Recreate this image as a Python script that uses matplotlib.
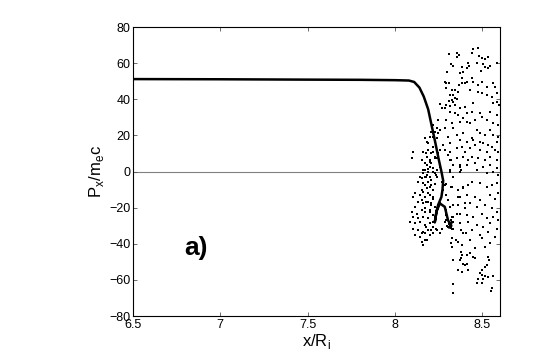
import numpy as np
import matplotlib
matplotlib.use('Agg')
import matplotlib.pyplot as plt

plt.rcParams['font.family'] = ['Liberation Sans', 'DejaVu Sans']

# main momentum trace
line_x = [6.5, 7.0, 7.5, 7.8, 8.0, 8.08, 8.11, 8.14, 8.165, 8.19, 8.21, 8.23, 8.25,
          8.266, 8.276, 8.272, 8.266, 8.247, 8.238, 8.228, 8.238, 8.257, 8.285, 8.304,
          8.323, 8.31, 8.325]
line_y = [51.2, 51.1, 50.9, 50.8, 50.6, 50.4, 49.6, 46.5, 41.5, 34.5, 25.5, 16.5, 7,
          0, -5, -10, -14, -18.5, -22, -28, -22, -17.6, -19.5, -27,
          -30, -31, -28]

# scattered particles, upper part
top_x = [8.311, 8.353, 8.368, 8.356, 8.444, 8.442, 8.477, 8.483, 8.496, 8.515, 8.534,
         8.318, 8.330, 8.381, 8.420, 8.423, 8.410, 8.471, 8.502, 8.515, 8.534, 8.544,
         8.490, 8.299, 8.372, 8.387, 8.381, 8.439, 8.448, 8.410, 8.400, 8.381, 8.368,
         8.286, 8.295, 8.311, 8.295, 8.324, 8.343, 8.362, 8.334, 8.315, 8.343, 8.324,
         8.334, 8.356, 8.311, 8.429, 8.477, 8.496, 8.528, 8.559, 8.572, 8.525, 8.553,
         8.582, 8.582, 8.563, 8.597, 8.448, 8.295, 8.315, 8.343, 8.257, 8.286, 8.267,
         8.400, 8.372, 8.496, 8.477, 8.582]
top_y = [65.1, 65.4, 64.5, 63.2, 67.6, 65.8, 68.4, 63.9, 62.7, 62.1, 63.2,
         59.5, 58.4, 58.0, 60.3, 58.4, 57.1, 59.9, 59.5, 58.0, 57.1, 58.4,
         55.8, 55.3, 54.4, 55.3, 51.6, 51.6, 49.7, 49.7, 48.8, 49.2, 47.9,
         49.7, 48.8, 48.8, 46.0, 45.1, 45.1, 44.2, 42.4, 42.4, 40.5, 39.6,
         38.7, 40.0, 39.2, 45.1, 44.2, 43.3, 47.0, 48.8, 47.0, 42.4, 41.4,
         43.3, 38.7, 37.7, 36.8, 38.1, 36.8, 36.3, 36.8, 37.4, 35.0, 35.0,
         35.9, 35.0, 49.7, 47.9, 59.9]

# middle band (around zero)
mid_x = [8.315, 8.343, 8.362, 8.410, 8.439, 8.486, 8.544, 8.582, 8.496, 8.391, 8.372,
         8.410, 8.429, 8.458, 8.525, 8.563, 8.591, 8.324, 8.295, 8.248, 8.219, 8.238,
         8.257, 8.286, 8.209, 8.200, 8.171, 8.181, 8.190, 8.238, 8.219, 8.334, 8.353,
         8.391, 8.467, 8.486, 8.515, 8.544, 8.563, 8.591, 8.582, 8.486, 8.505, 8.534,
         8.448, 8.439, 8.410, 8.372, 8.305, 8.315, 8.276, 8.286, 8.315, 8.353, 8.381,
         8.400, 8.429, 8.458, 8.486, 8.525, 8.553, 8.572, 8.591, 8.104, 8.095, 8.181,
         8.200, 8.209, 8.181, 8.238, 8.315, 8.353, 8.391, 8.420, 8.439, 8.477, 8.515,
         8.544, 8.582, 8.334, 8.372, 8.410, 8.458, 8.505, 8.544, 8.582, 8.171, 8.190,
         8.219, 8.229, 8.143, 8.171, 8.315, 8.372, 8.467, 8.525, 8.563, 8.591, 8.200,
         8.238, 8.229, 8.248, 8.219, 8.190, 8.209, 8.229, 8.248, 8.257, 8.200, 8.219,
         8.238, 8.257, 8.162, 8.181]
mid_y = [33.1, 32.6, 31.3, 32.2, 33.1, 32.6, 33.1, 31.3, 30.4, 29.4, 27.6,
         27.6, 26.7, 28.5, 28.5, 26.7, 25.7, 26.7, 28.5, 28.5, 25.7, 23.9,
         23.0, 23.9, 22.1, 19.3, 18.4, 16.5, 15.6, 18.4, 13.8, 23.9, 20.2,
         21.1, 23.0, 21.1, 20.2, 23.0, 20.2, 19.3, 16.5, 16.5, 15.6, 14.7,
         17.4, 18.4, 16.5, 17.4, 19.3, 15.6, 14.7, 11.9, 11.0, 12.8, 13.8,
         11.0, 12.8, 14.7, 11.9, 11.0, 13.8, 11.9, 11.0, 11.0, 7.3, 8.2,
         6.4, 4.5, 3.6, 7.3, 6.4, 7.3, 8.2, 6.4, 8.2, 7.3, 6.4,
         8.2, 6.4, 3.6, 2.7, 3.6, 4.5, 2.7, 3.6, 1.8, 0.8, -0.1,
         1.8, -1.0, -2.9, -2.9, -0.1, -0.1, 0.8, -1.0, -0.1, -1.9, -2.9,
         -2.9, 22.1, 21.1, 19.3, 11.9, 10.1, 8.2, 10.1, 11.9, 2.7, -0.1,
         0.8, 2.7, -1.0, -1.9]

# lower band (dense bunch left of the spiral and sparse right)
low_x = [8.133, 8.162, 8.190, 8.209, 8.181, 8.152, 8.219, 8.114, 8.104, 8.143, 8.171,
         8.200, 8.219, 8.133, 8.162, 8.190, 8.209, 8.114, 8.095, 8.124, 8.152, 8.171,
         8.200, 8.104, 8.133, 8.162, 8.190, 8.219, 8.085, 8.114, 8.143, 8.171, 8.200,
         8.219, 8.104, 8.133, 8.162, 8.190, 8.114, 8.143, 8.171, 8.200, 8.152, 8.181,
         8.162, 8.229, 8.238, 8.219,
         8.267, 8.286, 8.276, 8.295, 8.305, 8.315, 8.295, 8.324, 8.334, 8.315, 8.295,
         8.305, 8.324, 8.267, 8.257,
         8.324, 8.362, 8.391, 8.420, 8.439, 8.486, 8.525, 8.553, 8.582, 8.372, 8.410,
         8.458, 8.486, 8.544, 8.572, 8.591, 8.362, 8.400, 8.429, 8.467, 8.515, 8.553,
         8.582, 8.353, 8.410, 8.448, 8.496, 8.525, 8.563, 8.591, 8.372, 8.420, 8.467,
         8.505, 8.544, 8.582, 8.391, 8.439, 8.486, 8.534, 8.572, 8.324, 8.362, 8.429,
         8.496, 8.544, 8.324, 8.381, 8.458, 8.515]
low_y = [-5.6, -6.5, -5.6, -7.5, -9.3, -10.2, -10.2, -12.1, -13.9, -13.0, -13.9,
         -13.0, -14.9, -16.7, -17.6, -16.7, -18.5, -19.5, -22.2, -23.2, -21.3, -22.2,
         -22.2, -25.0, -25.9, -25.0, -25.9, -24.1, -27.8, -28.7, -27.8, -29.6, -28.7,
         -30.5, -31.5, -32.4, -33.3, -32.4, -35.1, -36.1, -34.2, -35.1, -38.8, -37.9,
         -40.7, -27.8, -32.4, -34.2,
         -5.6, -7.5, -10.2, -13.0, -15.8, -19.5, -23.2, -25.0, -27.8, -29.6, -26.8,
         -30.5, -31.5, -31.5, -34.2,
         -8.4, -10.2, -9.3, -7.5, -5.6, -6.5, -8.4, -7.5, -6.5, -13.9, -13.0,
         -13.9, -15.8, -13.0, -14.9, -12.1, -18.5, -20.4, -17.6, -19.5, -18.5, -20.4,
         -22.2, -23.2, -24.1, -25.0, -23.2, -25.9, -25.0, -26.8, -28.7, -27.8, -29.6,
         -30.5, -28.7, -31.5, -34.2, -32.4, -35.1, -33.3, -36.1, -37.0, -38.8, -37.9,
         -37.0, -39.8, -41.6, -40.7, -42.5, -41.6]

# extra particles packed around the spiral
core_x = [8.161, 8.180, 8.218, 8.152, 8.171, 8.199, 8.228, 8.161, 8.190, 8.218, 8.152,
          8.180, 8.209, 8.237, 8.171, 8.199, 8.228, 8.161, 8.190, 8.218, 8.152, 8.180,
          8.209, 8.171, 8.199, 8.228, 8.161, 8.190, 8.218, 8.180, 8.209, 8.237, 8.152,
          8.171, 8.304, 8.323, 8.314, 8.333, 8.295, 8.323, 8.304, 8.333, 8.295, 8.333,
          8.314, 8.371, 8.380, 8.390, 8.361, 8.399, 8.371, 8.409, 8.352, 8.323, 8.380,
          8.29, 8.30, 8.31, 8.32, 8.30, 8.285, 8.32, 8.33]
core_y = [11.0, 10.1, 11.0, 6.4, 4.5, 5.4, 7.3, 0.8, 1.7, -0.1, -3.8,
          -2.9, -4.7, -1.9, -7.5, -8.4, -6.6, -11.2, -12.1, -13.9, -15.8, -16.7,
          -17.6, -20.4, -21.3, -19.5, -25.0, -25.9, -27.8, -30.6, -32.4, -31.5, -34.2,
          -37.9, 9.1, 6.4, 0.8, -2.9, -6.6, -8.4, -15.8, -18.6, -21.3, -25.0,
          -28.7, 3.6, 0.8, -8.4, -13.9, -17.6, -23.2, -34.2, -37.9, -39.8, -32.4,
          -24, -27, -29, -31, -30, -28, -27, -32]

# bottom stragglers
bot_x = [8.376, 8.381, 8.378, 8.410, 8.429, 8.448, 8.458, 8.330, 8.372, 8.391, 8.400,
         8.410, 8.381, 8.362, 8.420, 8.534, 8.540, 8.528, 8.515, 8.496, 8.486, 8.496,
         8.515, 8.534, 8.559, 8.477, 8.502, 8.471, 8.498, 8.334, 8.330, 8.553, 8.547]
bot_y = [-44.4, -46.3, -47.6, -46.3, -45.0, -47.2, -48.1, -48.7, -49.0, -50.9, -51.8,
         -51.2, -55.5, -54.6, -54.6, -47.2, -49.0, -51.8, -52.7, -54.6, -56.4, -57.3,
         -57.9, -58.3, -57.9, -59.7, -59.7, -61.6, -61.6, -62.0, -67.1, -64.7, -66.0]

dots_x = top_x + mid_x + low_x + core_x + bot_x
dots_y = top_y + mid_y + low_y + core_y + bot_y

fig = plt.figure(figsize=(5.45, 3.56), dpi=100)
ax = fig.add_axes([0.244, 0.112, 0.673, 0.812])

ax.axhline(0, color='#808080', lw=0.8, zorder=1)
ax.scatter(dots_x, dots_y, s=2.5, c='k', marker='s', linewidths=0, zorder=2)
ax.plot(line_x, line_y, color='k', lw=1.8, zorder=3)

ax.set_xlim(6.5, 8.6)
ax.set_ylim(-80, 80)
ax.set_xticks(np.arange(6.5, 8.51, 0.5))
ax.set_xticklabels(['6.5', '7', '7.5', '8', '8.5'])
ax.set_yticks(np.arange(-80, 81, 20))
ax.tick_params(direction='in', length=3, width=0.6, labelsize=9, top=True, right=True,
               color='#555555', pad=2)
for s in ax.spines.values():
    s.set_linewidth(0.8)

ax.set_xlabel('x/R$_\\mathregular{i}$', fontsize=12, labelpad=1)
ax.set_ylabel('P$_\\mathregular{x}$/m$_\\mathregular{e}$c', fontsize=12, labelpad=2)
ax.text(6.86, -42.5, 'a)', fontsize=19, fontweight='bold', ha='center', va='center')

fig.savefig('out.png', dpi=100)
